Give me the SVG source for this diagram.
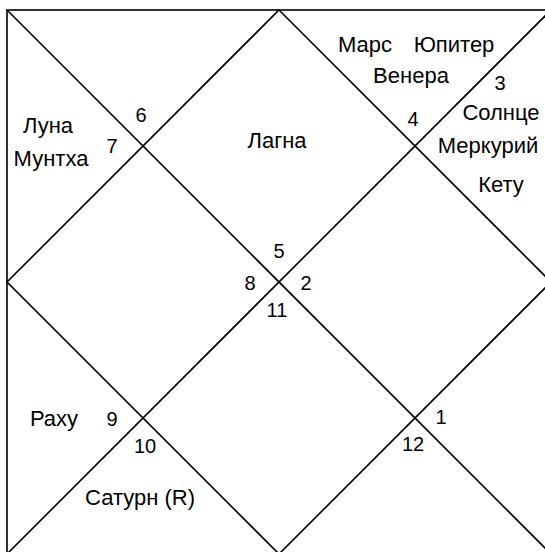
<svg xmlns="http://www.w3.org/2000/svg" width="545" height="552" viewBox="0 0 545 552">
<style>
.ln{stroke:#000;stroke-width:1.6;fill:none}
text{font-family:"Liberation Sans",Arial,sans-serif;font-size:22px;fill:#000;text-anchor:middle}
text.n{font-size:20px}
</style>
<rect width="545" height="552" fill="#fff"/>
<g id="connectors">
<rect class="ln" x="7" y="10" width="544" height="544"/>
<line class="ln" x1="7" y1="10" x2="551" y2="554"/>
<line class="ln" x1="551" y1="10" x2="7" y2="554"/>
<polygon class="ln" points="279,10 551,282 279,554 7,282"/>
</g>
<g id="house1"><text x="277" y="148">Лагна</text><text class="n" x="279" y="258">5</text></g>
<g id="house2"><text x="365" y="52">Марс</text><text x="454" y="52">Юпитер</text><text x="411" y="83">Венера</text><text class="n" x="413" y="126">4</text></g>
<g id="house3"><text class="n" x="500" y="90">3</text><text x="501" y="120">Солнце</text><text x="488" y="153">Меркурий</text><text x="501" y="192">Кету</text></g>
<g id="house4"><text class="n" x="306" y="290">2</text></g>
<g id="house5"><text class="n" x="441" y="424">1</text></g>
<g id="house6"><text class="n" x="413" y="451">12</text></g>
<g id="house7"><text class="n" x="277" y="317">11</text></g>
<g id="house8"><text class="n" x="145" y="453">10</text><text x="140" y="505">Сатурн (R)</text></g>
<g id="house9"><text x="54" y="426">Раху</text><text class="n" x="112" y="426">9</text></g>
<g id="house10"><text class="n" x="250" y="290">8</text></g>
<g id="house11"><text x="48" y="133">Луна</text><text x="51" y="166">Мунтха</text><text class="n" x="112" y="153">7</text></g>
<g id="house12"><text class="n" x="141" y="122">6</text></g>
</svg>
